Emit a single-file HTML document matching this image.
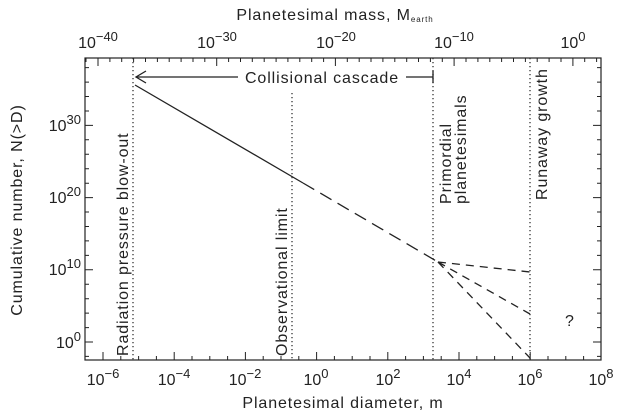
<!DOCTYPE html>
<html><head><meta charset="utf-8"><style>
html,body{margin:0;padding:0;background:#fff;}
svg{display:block;}
text{font-family:"Liberation Sans",sans-serif;fill:#222;}
.ls{letter-spacing:0.9px;}
</style></head><body>
<svg width="624" height="416" viewBox="0 0 624 416" xmlns="http://www.w3.org/2000/svg">
<g stroke="#222" stroke-width="1.2" fill="none">
<rect x="85" y="58" width="516" height="302"/>
</g>
<g stroke="#333" stroke-width="1.3" stroke-dasharray="1.3,2.7" fill="none">
<line x1="133" y1="58" x2="133" y2="360"/>
<line x1="292" y1="93" x2="292" y2="360"/>
<line x1="433" y1="58" x2="433" y2="360"/>
<line x1="530" y1="58" x2="530" y2="360"/>
</g>
<g stroke="#222" stroke-width="1.3" fill="none">
<line x1="135" y1="85" x2="303" y2="183"/>
<line x1="303" y1="183" x2="438" y2="262" stroke-dasharray="13,7"/>
<g stroke-dasharray="8,6">
<line x1="438" y1="262" x2="530" y2="272"/>
<line x1="438" y1="262" x2="530" y2="314"/>
<line x1="438" y1="262" x2="530" y2="358"/>
</g>
<line x1="136" y1="77" x2="238" y2="77"/>
<line x1="406" y1="77" x2="433" y2="77"/>
<line x1="433" y1="71" x2="433" y2="83"/>
<polyline points="146,71 136,77 146,83"/>
</g>
<text x="322" y="83" font-size="16" text-anchor="middle" class="ls">Collisional cascade</text>
<g font-size="16" class="ls">
<text transform="translate(128,356) rotate(-90)">Radiation pressure blow-out</text>
<text transform="translate(287,356) rotate(-90)">Observational limit</text>
<text transform="translate(451,204) rotate(-90)">Primordial</text>
<text transform="translate(466,204) rotate(-90)">planetesimals</text>
<text transform="translate(547,200) rotate(-90)">Runaway growth</text>
<text x="565" y="326">?</text>
</g>
<g font-size="16" text-anchor="middle">
<text x="103" y="385">10<tspan font-size="13" dy="-7">−6</tspan></text>
<text x="174" y="385">10<tspan font-size="13" dy="-7">−4</tspan></text>
<text x="245" y="385">10<tspan font-size="13" dy="-7">−2</tspan></text>
<text x="316" y="385">10<tspan font-size="13" dy="-7">0</tspan></text>
<text x="388" y="385">10<tspan font-size="13" dy="-7">2</tspan></text>
<text x="459" y="385">10<tspan font-size="13" dy="-7">4</tspan></text>
<text x="530" y="385">10<tspan font-size="13" dy="-7">6</tspan></text>
<text x="601" y="385">10<tspan font-size="13" dy="-7">8</tspan></text>
<text x="98" y="48">10<tspan font-size="13" dy="-7">−40</tspan></text>
<text x="217" y="48">10<tspan font-size="13" dy="-7">−30</tspan></text>
<text x="336" y="48">10<tspan font-size="13" dy="-7">−20</tspan></text>
<text x="454" y="48">10<tspan font-size="13" dy="-7">−10</tspan></text>
<text x="573" y="48">10<tspan font-size="13" dy="-7">0</tspan></text>
</g>
<g font-size="16" text-anchor="end">
<text x="81" y="131">10<tspan font-size="13" dy="-7">30</tspan></text>
<text x="81" y="203">10<tspan font-size="13" dy="-7">20</tspan></text>
<text x="81" y="275">10<tspan font-size="13" dy="-7">10</tspan></text>
<text x="81" y="348">10<tspan font-size="13" dy="-7">0</tspan></text>
</g>
<text x="343" y="408" font-size="16" text-anchor="middle" class="ls">Planetesimal diameter, m</text>
<text x="335" y="20" font-size="16" text-anchor="middle" class="ls">Planetesimal mass, M<tspan font-size="8" dy="2">earth</tspan></text>
<text transform="translate(22,210) rotate(-90)" font-size="16" text-anchor="middle" class="ls">Cumulative number, N(&gt;D)</text>
<g stroke="#222" stroke-width="1">
<path d="M103 360v-8M120.8 360v-4M138.6 360v-4M156.4 360v-4M174.2 360v-8M192 360v-4M209.8 360v-4M227.6 360v-4M245.4 360v-8M263.2 360v-4M281 360v-4M298.8 360v-4M316.6 360v-8M334.4 360v-4M352.2 360v-4M370 360v-4M387.8 360v-8M405.6 360v-4M423.4 360v-4M441.2 360v-4M459 360v-8M476.8 360v-4M494.6 360v-4M512.4 360v-4M530.2 360v-8M548 360v-4M565.8 360v-4M583.6 360v-4"/>
<path d="M98 58v8M109.9 58v4M121.7 58v4M133.6 58v4M145.5 58v4M157.4 58v4M169.2 58v4M181.1 58v4M193 58v4M204.8 58v4M216.7 58v8M228.6 58v4M240.5 58v4M252.3 58v4M264.2 58v4M276.1 58v4M287.9 58v4M299.8 58v4M311.7 58v4M323.6 58v4M335.4 58v8M347.3 58v4M359.2 58v4M371 58v4M382.9 58v4M394.8 58v4M406.7 58v4M418.5 58v4M430.4 58v4M442.3 58v4M454.1 58v8M466 58v4M477.9 58v4M489.8 58v4M501.6 58v4M513.5 58v4M525.4 58v4M537.2 58v4M549.1 58v4M561 58v4M572.9 58v8M584.7 58v4M596.6 58v4M86 58v4"/>
<path d="M85 342h8M85 327.6h4M85 313.1h4M85 298.7h4M85 284.2h4M85 269.8h8M85 255.4h4M85 240.9h4M85 226.5h4M85 212h4M85 197.6h8M85 183.2h4M85 168.7h4M85 154.3h4M85 139.8h4M85 125.4h8M85 111h4M85 96.5h4M85 82.1h4M85 67.6h4M85 356.4h4
M601 342h-8M601 327.6h-4M601 313.1h-4M601 298.7h-4M601 284.2h-4M601 269.8h-8M601 255.4h-4M601 240.9h-4M601 226.5h-4M601 212h-4M601 197.6h-8M601 183.2h-4M601 168.7h-4M601 154.3h-4M601 139.8h-4M601 125.4h-8M601 111h-4M601 96.5h-4M601 82.1h-4M601 67.6h-4M601 356.4h-4
M601 360"/>
</g>
</svg>
</body></html>
